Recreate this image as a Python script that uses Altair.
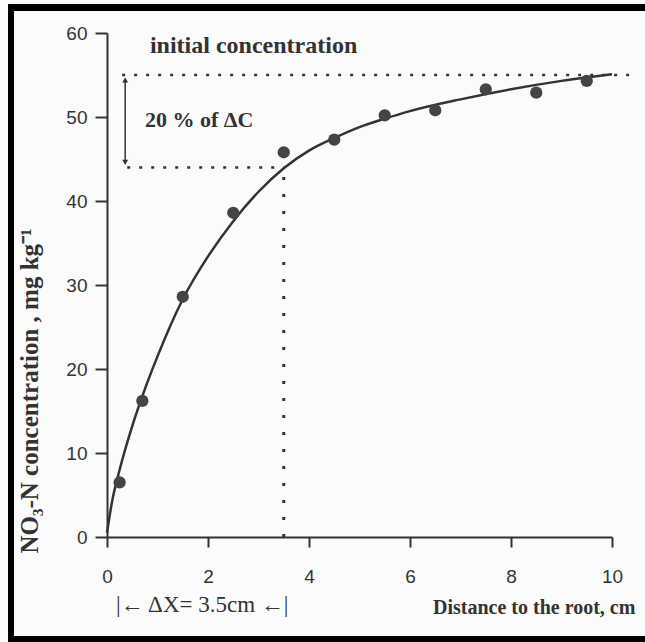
import altair as alt
import pandas as pd

# Measured points (distance to root, cm ; NO3-N concentration, mg/kg)
pt_x = [0.25, 0.7, 1.5, 2.5, 3.5, 4.5, 5.5, 6.5, 7.5, 8.5, 9.5]
pt_y = [6.5, 16.2, 28.6, 38.6, 45.8, 47.3, 50.2, 50.8, 53.3, 52.9, 54.3]

# Fitted curve
curve_x = [0, 0.1, 0.25, 0.5, 0.75, 1, 1.5, 2, 2.5, 3, 3.5, 4, 4.5, 5, 5.5, 6, 7, 8, 9, 10]
curve_y = [0.5, 4.2, 8.0, 13.2, 17.6, 21.5, 28.3, 33.4, 37.6, 41.1, 43.9, 46.0, 47.5,
           48.8, 49.8, 50.7, 52.1, 53.3, 54.3, 55.1]

# Annotation values
initial_c = 55
c_at_dx = 44
dx = 3.5
x_ticks = [0, 2, 4, 6, 8, 10]
y_ticks = [0, 10, 20, 30, 40, 50, 60]

INK = "#333333"
SERIF = "Liberation Serif"
SANS = "Liberation Sans"

pts = pd.DataFrame({"x": pt_x, "y": pt_y})
curve = pd.DataFrame({"x": curve_x, "y": curve_y})

xs = alt.Scale(domain=[0, 10], nice=False, zero=False)
ys = alt.Scale(domain=[0, 60], nice=False, zero=False)

x_axis = alt.Axis(values=x_ticks, title=None, grid=False, tickSize=10, labelPadding=20,
                  labelFontSize=19, labelFont=SANS, labelColor=INK, labelFlush=False,
                  domainColor=INK, domainWidth=2, tickColor=INK, tickWidth=2)
y_axis = alt.Axis(values=y_ticks, title=None, grid=False, tickSize=12, labelPadding=8,
                  labelFontSize=19, labelFont=SANS, labelColor=INK, labelFlush=False,
                  domainColor=INK, domainWidth=2, tickColor=INK, tickWidth=2)

line = alt.Chart(curve).mark_line(color=INK, strokeWidth=2.5, interpolate="monotone").encode(
    x=alt.X("x:Q", scale=xs, axis=x_axis),
    y=alt.Y("y:Q", scale=ys, axis=y_axis),
)

points = alt.Chart(pts).mark_circle(color="#444444", size=150, opacity=1).encode(
    x=alt.X("x:Q", scale=xs), y=alt.Y("y:Q", scale=ys)
)

hl = pd.DataFrame({"x": [0.3, 0.4], "x2": [10.35, dx], "y": [initial_c, c_at_dx]})
hlines = alt.Chart(hl).mark_rule(color=INK, strokeWidth=2.5, strokeDash=[3, 9]).encode(
    x=alt.X("x:Q", scale=xs), x2="x2:Q", y=alt.Y("y:Q", scale=ys)
)

vl = pd.DataFrame({"x": [dx], "y": [0], "y2": [c_at_dx]})
vline = alt.Chart(vl).mark_rule(color=INK, strokeWidth=3, strokeDash=[3, 14]).encode(
    x=alt.X("x:Q", scale=xs), y=alt.Y("y:Q", scale=ys), y2="y2:Q"
)

arr = pd.DataFrame({"x": [0.36], "y": [c_at_dx + 0.5], "y2": [initial_c - 0.5]})
arrow = alt.Chart(arr).mark_rule(color=INK, strokeWidth=1.5).encode(
    x=alt.X("x:Q", scale=xs), y=alt.Y("y:Q", scale=ys), y2="y2:Q"
)
heads = pd.DataFrame({"x": [0.36, 0.36], "y": [initial_c - 0.6, c_at_dx + 0.6],
                      "s": ["triangle-up", "triangle-down"]})
arrowheads = alt.Chart(heads).mark_point(filled=True, color=INK, size=35, opacity=1).encode(
    x=alt.X("x:Q", scale=xs), y=alt.Y("y:Q", scale=ys),
    shape=alt.Shape("s:N", scale=alt.Scale(domain=["triangle-up", "triangle-down"],
                                           range=["triangle-up", "triangle-down"]), legend=None),
)

init_lab = alt.Chart(pd.DataFrame({"x": [0.85], "y": [58.5], "t": ["initial concentration"]})).mark_text(
    align="left", baseline="middle", font=SERIF, fontWeight="bold", fontSize=24, color=INK
).encode(x=alt.X("x:Q", scale=xs), y=alt.Y("y:Q", scale=ys), text="t:N")

dc_lab = alt.Chart(pd.DataFrame({"x": [0.75], "y": [49.6], "t": ["20 % of \u0394C"]})).mark_text(
    align="left", baseline="middle", font=SERIF, fontWeight="bold", fontSize=22, color=INK
).encode(x=alt.X("x:Q", scale=xs), y=alt.Y("y:Q", scale=ys), text="t:N")

ytitle = alt.Chart(pd.DataFrame({"t": ["NO\u2083-N concentration , mg kg\u207b\u00b9"]})).mark_text(
    angle=270, align="center", baseline="middle", font=SERIF, fontWeight="bold",
    fontSize=25, color=INK
).encode(x=alt.value(-77), y=alt.value(358), text="t:N")

dx_label = alt.Chart(pd.DataFrame({"t": ["|\u2190 \u0394X= 3.5cm \u2190|"]})).mark_text(
    align="left", baseline="middle", font=SERIF, fontSize=23, color=INK
).encode(x=alt.value(9), y=alt.value(572), text="t:N")

xtitle = alt.Chart(pd.DataFrame({"t": ["Distance to the root, cm"]})).mark_text(
    align="left", baseline="middle", font=SERIF, fontWeight="bold", fontSize=20, color=INK
).encode(x=alt.value(326), y=alt.value(575), text="t:N")

# scanned-page black frame (top, left, bottom)
fr_top = alt.Chart(pd.DataFrame({"k": ["top"]})).mark_rect(color="black").encode(
    x=alt.value(-99), x2=alt.value(538), y=alt.value(-29), y2=alt.value(-22))
fr_left = alt.Chart(pd.DataFrame({"k": ["left"]})).mark_rect(color="black").encode(
    x=alt.value(-99), x2=alt.value(-93), y=alt.value(-29), y2=alt.value(609))
fr_bot = alt.Chart(pd.DataFrame({"k": ["bottom"]})).mark_rect(color="black").encode(
    x=alt.value(-99), x2=alt.value(538), y=alt.value(603), y2=alt.value(609))

chart = alt.layer(
    hlines, vline, arrow, arrowheads, line, points, init_lab, dc_lab, ytitle, dx_label, xtitle,
    fr_top, fr_left, fr_bot
).properties(
    width=505, height=504,
    autosize=alt.AutoSizeParams(type="none"),
    padding={"left": 107, "top": 33, "right": 33, "bottom": 105},
    background="#fbfbfb",
).configure_view(stroke=None)

chart.save("out.html", embed_options={"renderer": "svg", "actions": False})
